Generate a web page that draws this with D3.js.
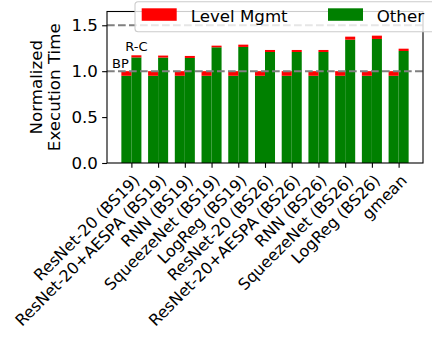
<!DOCTYPE html>
<html>
<head>
<meta charset="utf-8">
<script src="https://cdn.jsdelivr.net/npm/d3@7"></script>
<style>
  html, body { margin: 0; padding: 0; background: #fff; }
  svg { display: block; }
  text { font-family: "DejaVu Sans", sans-serif; }
</style>
</head>
<body>
<svg id="chart" width="432" height="345"></svg>
<script>
const categories = [
  "ResNet-20 (BS19)", "ResNet-20+AESPA (BS19)", "RNN (BS19)", "SqueezeNet (BS19)", "LogReg (BS19)",
  "ResNet-20 (BS26)", "ResNet-20+AESPA (BS26)", "RNN (BS26)", "SqueezeNet (BS26)", "LogReg (BS26)", "gmean"
];
const seriesNames = ["Level Mgmt", "Other"];
const bpOther  = [0.95, 0.95, 0.95, 0.95, 0.95, 0.95, 0.95, 0.95, 0.95, 0.95, 0.95];
const bpLevel  = [0.05, 0.05, 0.05, 0.05, 0.05, 0.05, 0.05, 0.05, 0.05, 0.05, 0.05];
const rcOther  = [1.150, 1.148, 1.144, 1.260, 1.264, 1.209, 1.209, 1.209, 1.343, 1.351, 1.220];
const rcLevel  = [0.023, 0.022, 0.022, 0.018, 0.025, 0.022, 0.022, 0.022, 0.033, 0.036, 0.025];
const yTicks = [0.0, 0.5, 1.0, 1.5];
const refLines = [1.0, 1.5];

const svg = d3.select("#chart");
const margin = { left: 107, right: 423, top: 11.5, bottom: 163 };
const barW = 0.375;
const n = categories.length;
const pad = (n - 1 + 2 * barW) * 0.05;
const x = d3.scaleLinear().domain([-barW - pad, n - 1 + barW + pad]).range([margin.left, margin.right]);
const y = d3.scaleLinear().domain([0, 1.65]).range([margin.bottom, margin.top]);

const RED = "#ff0000", GREEN = "#008000";

const bars = [];
categories.forEach((c, i) => {
  bars.push({ x0: i - barW, other: bpOther[i], level: bpLevel[i] });
  bars.push({ x0: i, other: rcOther[i], level: rcLevel[i] });
});

const g = svg.append("g");
g.selectAll("rect.other").data(bars).join("rect")
  .attr("x", d => x(d.x0)).attr("width", d => x(d.x0 + barW) - x(d.x0))
  .attr("y", d => y(d.other)).attr("height", d => y(0) - y(d.other))
  .attr("fill", GREEN);
g.selectAll("rect.level").data(bars).join("rect")
  .attr("x", d => x(d.x0)).attr("width", d => x(d.x0 + barW) - x(d.x0))
  .attr("y", d => y(d.other + d.level)).attr("height", d => y(d.other) - y(d.other + d.level))
  .attr("fill", RED);

// reference dashed lines
svg.selectAll("line.ref").data(refLines).join("line")
  .attr("x1", margin.left).attr("x2", margin.right)
  .attr("y1", d => y(d)).attr("y2", d => y(d))
  .attr("stroke", "#808080").attr("stroke-width", 2.08)
  .attr("stroke-dasharray", "7.7,3.3");

// annotations
svg.append("text").attr("x", x(-barW) - 1).attr("y", y(1.0) - 3.5)
  .attr("text-anchor", "middle").attr("font-size", 13).text("BP");
svg.append("text").attr("x", x(barW / 2)).attr("y", y(rcOther[0] + rcLevel[0]) - 4.5)
  .attr("text-anchor", "middle").attr("font-size", 13).text("R-C");

// spines
svg.append("rect").attr("x", margin.left).attr("y", margin.top)
  .attr("width", margin.right - margin.left).attr("height", margin.bottom - margin.top)
  .attr("fill", "none").attr("stroke", "#000").attr("stroke-width", 1.1);

// y axis
const yAxis = d3.axisLeft(y).tickValues(yTicks).tickFormat(d3.format(".1f")).tickSize(4.86).tickPadding(4.2);
const ya = svg.append("g").attr("transform", `translate(${margin.left},0)`).call(yAxis);
ya.select(".domain").remove();
ya.selectAll("line").attr("stroke-width", 1.1);
ya.selectAll("text").attr("font-size", 16.67).attr("font-family", "DejaVu Sans");

// x axis
const xFont = 16;
const xAxis = d3.axisBottom(x).tickValues(d3.range(n)).tickFormat(i => categories[i]).tickSize(4.86);
const xa = svg.append("g").attr("transform", `translate(0,${margin.bottom})`).call(xAxis);
xa.select(".domain").remove();
xa.selectAll("line").attr("stroke-width", 1.1);
xa.selectAll("text")
  .attr("font-size", xFont).attr("font-family", "DejaVu Sans")
  .attr("text-anchor", "end").attr("dy", null).attr("x", 0).attr("y", 0.78 * xFont)
  .attr("transform", "translate(0,9.7) rotate(-45)");

// y label
const yl = svg.append("text").attr("transform", `translate(0,${(margin.top + margin.bottom) / 2}) rotate(-90)`)
  .attr("text-anchor", "middle").attr("font-size", 16.67);
yl.append("tspan").attr("x", 0).attr("y", 41.5).text("Normalized");
yl.append("tspan").attr("x", 0).attr("y", 60).text("Execution Time");

// legend
const lg = svg.append("g");
lg.append("rect").attr("x", 135).attr("y", 1.7).attr("width", 320).attr("height", 30)
  .attr("rx", 3).attr("fill", "#fff").attr("fill-opacity", 0.8)
  .attr("stroke", "#cccccc").attr("stroke-width", 1.1);
const legendItems = [
  { name: seriesNames[0], color: RED, px: 141.7, tx: 190.7 },
  { name: seriesNames[1], color: GREEN, px: 328, tx: 376.7 }
];
legendItems.forEach(it => {
  lg.append("rect").attr("x", it.px).attr("y", 8.3).attr("width", 35).attr("height", 12.5).attr("fill", it.color);
  lg.append("text").attr("x", it.tx).attr("y", 21.5).attr("font-size", 16.67).text(it.name);
});
</script>
</body>
</html>
